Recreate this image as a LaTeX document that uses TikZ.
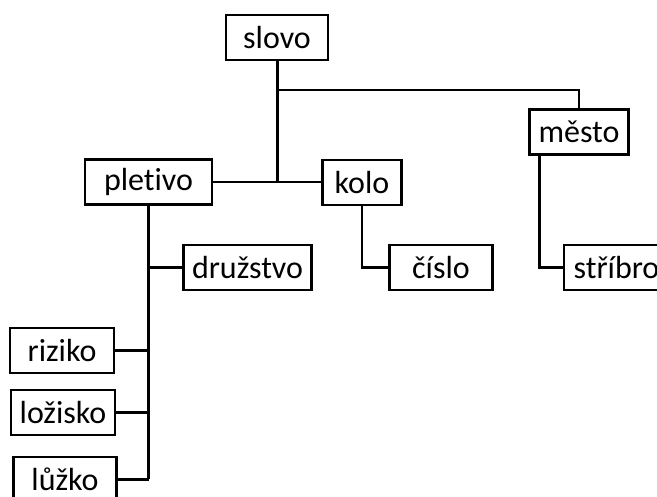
\documentclass[tikz,border=0pt]{standalone}
\usepackage{fontspec}
\setmainfont{Carlito}[Ligatures={NoCommon}]
\usetikzlibrary{calc}
\begin{document}
\begin{tikzpicture}[x=1pt,y=1pt,
  word/.style={draw=black,line width=2.2pt,fill=white,inner sep=0pt,
    minimum height=45pt,font=\fontsize{32}{38}\selectfont},
  link/.style={line width=2.2pt},
  trunk/.style={line width=3pt}]
\useasboundingbox (0,0) rectangle (657,-497);

% word boxes
\node[word,minimum width=102pt] (slovo)    at (277,-37.5) {slovo};
\node[word,minimum width=127pt] (pletivo)  at (148.5,-182) {pletivo};
\node[word,minimum width=79pt]  (kolo)     at (362,-182.5) {kolo};
\node[word,minimum width=99pt]  (mesto)    at (579,-132) {město};
\node[word,minimum width=128pt] (druzstvo) at (247.5,-267.5) {družstvo};
\node[word,minimum width=103pt] (cislo)    at (441,-267.5) {číslo};
\node[word,minimum width=105pt] (stribro)  at (616.5,-267.5) {stříbro};
\node[word,minimum width=104pt] (riziko)   at (62,-350.5) {riziko};
\node[word,minimum width=104pt] (lozisko)  at (63,-412.5) {ložisko};
\node[word,minimum width=103pt] (luzko)    at (65,-479.5) {lůžko};

% junctions on the main stem
\coordinate (split) at (slovo.south |- pletivo.east);
\coordinate (fork)  at ($(slovo.south)+(0,-29)$);

% connectors from slovo
\draw[trunk] (slovo.south) -- (split);
\draw[link] (pletivo.east) -- (kolo.west |- pletivo.east);
\draw[link] (fork) -| (mesto.north);

% connectors below kolo and město
\draw[link] (kolo.south) |- (cislo.west);
\draw[link] ([xshift=11pt]mesto.south west) |- (stribro.west);

% stem below pletivo with its branches
\draw[trunk] (pletivo.south) -- (pletivo.south |- luzko.east);
\draw[link] (pletivo.south |- druzstvo.west) -- (druzstvo.west);
\draw[link] (pletivo.south |- riziko.east) -- (riziko.east);
\draw[link] (pletivo.south |- lozisko.east) -- (lozisko.east);
\draw[link] (pletivo.south |- luzko.east) -- (luzko.east);
\end{tikzpicture}
\end{document}
